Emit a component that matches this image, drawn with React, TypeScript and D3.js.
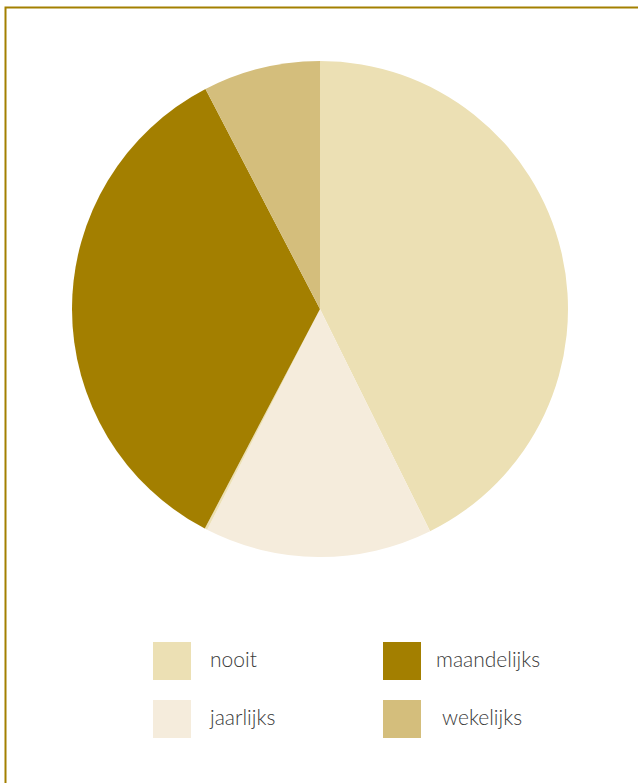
import React from "react";
import * as d3 from "d3";

const categories = ["nooit", "jaarlijks", "dagelijks", "maandelijks", "wekelijks"];
const values = [42.68, 14.84, 0.17, 34.67, 7.64];
const colors = ["#ece0b4", "#f5ecdc", "#ece0b4", "#a37f00", "#d4be7c"];
const legendItems = ["nooit", "maandelijks", "jaarlijks", "wekelijks"];
const legendOffsets = [57, 53, 57, 59];

const W = 638;
const H = 783;
const cx = 320;
const cy = 309;
const R = 248;

export default function App() {
  const pie = d3.pie<number>().sort(null).value((d) => d);
  const arcs = pie(values);
  const arc = d3.arc<d3.PieArcDatum<number>>().innerRadius(0).outerRadius(R);
  const colorOf = (name: string) => colors[categories.indexOf(name)];
  const legendX = d3.scaleOrdinal<number, number>().domain([0, 1]).range([153, 383]);
  const legendY = d3.scaleOrdinal<number, number>().domain([0, 1]).range([642, 700]);

  return (
    <svg
      width={W}
      height={H}
      style={{ position: "absolute", left: 0, top: 0, background: "#fff" }}
    >
      <rect x={5.5} y={7.5} width={800} height={900} fill="none" stroke="#a38000" strokeWidth={2} />
      <g transform={`translate(${cx},${cy})`}>
        {arcs.map((a, i) => (
          <path key={i} d={arc(a) || ""} fill={colors[i]} />
        ))}
      </g>
      {legendItems.map((name, i) => {
        const col = i % 2;
        const row = Math.floor(i / 2);
        const x = legendX(col);
        const y = legendY(row);
        return (
          <g key={name}>
            <rect x={x} y={y} width={38} height={38} fill={colorOf(name)} />
            <text
              x={x + legendOffsets[i]}
              y={y + 25}
              fontFamily="Lato, sans-serif"
              fontWeight={300}
              fontSize={21}
              fill="#3a3a3a"
            >
              {name}
            </text>
          </g>
        );
      })}
    </svg>
  );
}
